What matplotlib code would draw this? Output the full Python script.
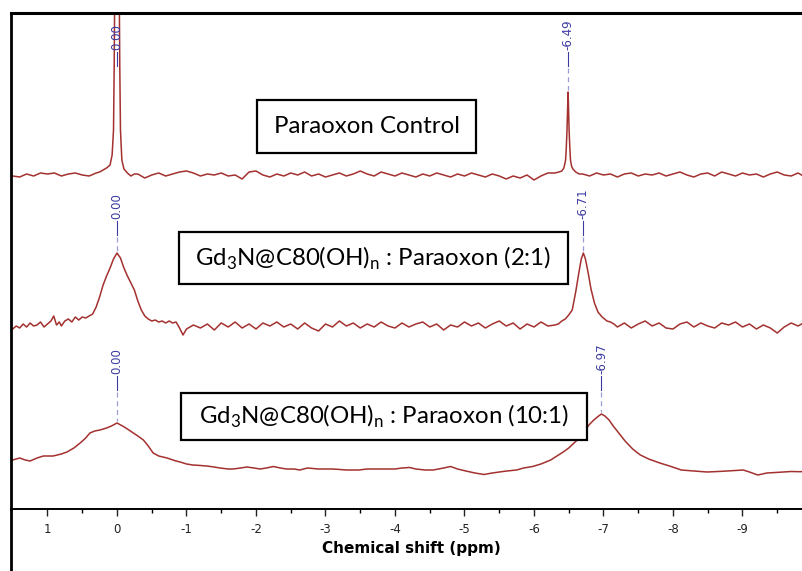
"""
31P NMR spectra of paraoxon with and without Gd3N@C80(OH)n.

Three stacked spectra on a shared chemical-shift axis, each with
boxed sample name and peak-position labels.
"""

import numpy as np
import matplotlib.pyplot as plt
from matplotlib.lines import Line2D
from matplotlib.patches import Rectangle

W, H = 802, 571

# Paraoxon control (height above baseline)
CONTROL_PPM = [1.5, 1.4, 1.3, 1.2, 1.1, 1.0, 0.9, 0.8, 0.7, 0.6, 0.5, 0.4, 0.3,
               0.25, 0.2, 0.15, 0.1, 0.07, 0.05, 0.04, 0.03, 0.015, 0.0, -0.015, -0.03, -0.04,
               -0.05, -0.07, -0.1, -0.15, -0.2, -0.25,
               -0.3, -0.4, -0.5, -0.6, -0.7, -0.8, -0.9, -1.0, -1.1, -1.2, -1.3, -1.4, -1.5,
               -1.6, -1.7, -1.8, -1.9, -2.0, -2.1, -2.2, -2.3, -2.4, -2.5, -2.6, -2.7, -2.8,
               -2.9, -3.0, -3.1, -3.2, -3.3, -3.4, -3.5, -3.6, -3.7, -3.8, -3.9, -4.0, -4.1,
               -4.2, -4.3, -4.4, -4.5, -4.6, -4.7, -4.8, -4.9, -5.0, -5.1, -5.2, -5.3, -5.4,
               -5.5, -5.6, -5.7, -5.8, -5.9, -6.0, -6.1, -6.2, -6.3,
               -6.36, -6.4, -6.43, -6.455, -6.465, -6.475, -6.485, -6.49, -6.495, -6.505,
               -6.515, -6.525, -6.54, -6.56, -6.6, -6.65,
               -6.7, -6.8, -6.9, -7.0, -7.1, -7.2, -7.3, -7.4, -7.5, -7.6, -7.7, -7.8, -7.9,
               -8.0, -8.1, -8.2, -8.3, -8.4, -8.5, -8.6, -8.7, -8.8, -8.9, -9.0, -9.1, -9.2,
               -9.3, -9.4, -9.5, -9.6, -9.7, -9.8, -9.9, -10.0]
CONTROL_INT = [-1, -2, 1, -1, 2, 1, 2, -1, 1, 2, 0, -1, 2,
               3, 5, 7, 10, 20, 45, 110, 210, 460, 700, 460, 210, 110,
               45, 15, 6, 2, -1, 1,
               1, -3, 0, 2, -1, 1, 3, 4, 2, -1, 1, 0, 2,
               -1, 0, -4, 3, 4, 0, -2, 1, -1, 2, 0, 3, -1,
               1, -2, 0, 2, -1, 1, 4, 1, -1, 3, 1, -1, 2,
               0, -2, 1, -1, 2, 0, -2, 1, -1, 2, 0, -2, 1,
               -1, -4, -1, -3, 0, -5, -1, 2, 2,
               3, 4, 7, 15, 28, 45, 72, 83, 72, 45,
               28, 15, 9, 6, 3, 1,
               1, -1, 2, 0, 1, -2, 1, 2, -1, 1, 0, 2, -1,
               1, 3, 0, -2, 1, 2, -1, 3, 1, -1, 2, 0, 1,
               -2, 1, 3, 0, -1, 2, -2, 1]
CONTROL_PEAKS = [0.00, -6.49]

# Gd3N@C80(OH)n : paraoxon 2:1
RATIO2_PPM = [1.5, 1.45, 1.4, 1.35, 1.3, 1.25, 1.2, 1.15, 1.1, 1.05, 1.0, 0.95, 0.91, 0.87,
              0.83, 0.8, 0.75, 0.7, 0.65, 0.6, 0.55, 0.5, 0.45, 0.4, 0.35, 0.3, 0.25, 0.2,
              0.15, 0.1, 0.05, 0.0, -0.05, -0.1, -0.15, -0.2, -0.25, -0.3, -0.35, -0.4,
              -0.45, -0.5, -0.55, -0.6, -0.65, -0.7, -0.75, -0.8, -0.85, -0.9, -0.95,
              -1.0, -1.1, -1.2, -1.3, -1.4, -1.5, -1.6, -1.7, -1.8, -1.9, -2.0, -2.1, -2.2,
              -2.3, -2.4, -2.5, -2.6, -2.7, -2.8, -2.9, -3.0, -3.1, -3.2, -3.3, -3.4, -3.5,
              -3.6, -3.7, -3.8, -3.9, -4.0, -4.1, -4.2, -4.3, -4.4, -4.5, -4.6, -4.7, -4.8,
              -4.9, -5.0, -5.1, -5.2, -5.3, -5.4, -5.5, -5.6, -5.7, -5.8, -5.9, -6.0, -6.1,
              -6.2, -6.3,
              -6.35, -6.4, -6.45, -6.5, -6.55, -6.6, -6.64, -6.68, -6.71, -6.74, -6.78,
              -6.82, -6.87, -6.92, -6.98, -7.05, -7.1, -7.15,
              -7.2, -7.3, -7.4, -7.5, -7.6, -7.7, -7.8, -7.9, -8.0, -8.1, -8.2, -8.3, -8.4,
              -8.5, -8.6, -8.7, -8.8, -8.9, -9.0, -9.1, -9.2, -9.3, -9.4, -9.5, -9.6, -9.7,
              -9.8, -9.9, -10.0]
RATIO2_INT = [-4, -1, -3, 1, -2, 2, -1, 0, 3, -2, 1, 4, 9, 0,
              3, -1, 4, 6, 3, 8, 5, 8, 7, 9, 11, 18, 28, 40,
              49, 57, 66, 72, 67, 57, 49, 42, 35, 24, 15, 9,
              6, 4, 5, 3, 4, 2, 4, 2, 3, -3, -10,
              -4, 0, -3, 1, -5, 2, -2, 3, -3, 1, -4, 2, -1,
              3, -2, 1, -4, 2, -3, -6, 1, -2, 4, -1, 2, -3,
              1, -2, 3, -1, -3, 2, -2, 1, 3, -2, 1, -5, 0,
              -2, 3, -1, 2, -3, 1, 4, -1, 2, -4, 1, -2, 3,
              -1, 0,
              1, 4, 6, 10, 15, 33, 50, 66, 72, 66, 52,
              36, 22, 13, 8, 4, 3, 1,
              -2, 2, -3, 1, 4, -1, 2, -3, -4, 1, 3, -2, 2,
              -1, -3, 2, 0, 3, -2, 1, -4, 0, -3, -8, -2, 2,
              -1, 3, 1]
RATIO2_PEAKS = [0.00, -6.71]

# Gd3N@C80(OH)n : paraoxon 10:1
RATIO10_PPM = [1.5, 1.45, 1.4, 1.32, 1.25, 1.15, 1.06, 0.92, 0.8, 0.72, 0.62, 0.53, 0.45,
               0.39, 0.32, 0.245, 0.15, 0.08, 0.0, -0.08, -0.15, -0.235, -0.3, -0.38, -0.45,
               -0.52, -0.6, -0.72, -0.85, -0.91, -1.0, -1.09, -1.2, -1.29, -1.4, -1.48, -1.6,
               -1.67, -1.78, -1.87, -1.97, -2.06, -2.15, -2.25, -2.35, -2.44, -2.55, -2.63,
               -2.74, -2.9, -3.11, -3.3, -3.48, -3.6, -3.85, -4.0, -4.1, -4.21, -4.3, -4.43,
               -4.55, -4.7, -4.8, -4.9, -5.02, -5.15, -5.28, -5.4, -5.5, -5.61, -5.75, -5.85,
               -5.98, -6.1, -6.24, -6.33, -6.42, -6.5, -6.56, -6.64, -6.72, -6.79, -6.86,
               -6.93, -6.97, -7.02, -7.08, -7.14, -7.22, -7.31, -7.42, -7.53, -7.65, -7.81,
               -7.95, -8.12, -8.3, -8.49, -8.65, -8.78, -9.01, -9.1, -9.22, -9.35, -9.52,
               -9.7, -9.82, -9.95]
RATIO10_INT = [10, 11, 12, 10, 9, 12, 14, 14, 16, 18, 22, 27, 32,
               37, 39, 40, 42, 44, 47, 44, 41, 37, 34, 30, 24,
               17, 14, 12, 9, 8, 6, 5, 4.5, 4, 3, 2, 1,
               1, 2, 3, 2, 1, 2, 3.5, 2, 1, 1, 0,
               2, 1, 1, 0, 0, 1, 1, 1, 2, 2.5, 1, 0,
               0, 2, 3.5, 1, -1, -3, -4.5, -3, -2, -1, 0, 2,
               3.5, 6, 10, 14, 18, 22, 26, 31, 38, 45, 50,
               54, 56, 54, 50, 44, 37, 29, 21, 15, 11, 7,
               4, 0, -1, -2, -1.5, -1, 0, -2, -5, -3, -2.3,
               -1.5, -1.7, -1.5]
RATIO10_PEAKS = [0.00, -6.97]

SAMPLE_NAMES = ["Paraoxon Control",
                r"Gd$_\mathregular{3}$N@C80(OH)$_\mathregular{n}$ : Paraoxon (2:1)",
                r"Gd$_\mathregular{3}$N@C80(OH)$_\mathregular{n}$ : Paraoxon (10:1)"]
X_TICKS = [1, 0, -1, -2, -3, -4, -5, -6, -7, -8, -9, -10]

# Layout, in image pixels (y measured from top)
OFFSETS = [334, 184, 39]          # baseline of each trace in data units
LABEL_LEVELS = [459, 290, 135]    # bottom of peak label text
BOXES = [(257, 100, 476, 153), (179, 232, 568, 284), (181, 393, 587, 440)]

LINE_COLOR = "#A3312F"
LABEL_COLOR = "#3B3BA3"
LEADER_COLOR = "#9C9CD8"


def fx(x):
    return x / W


def fy(y):
    return 1 - y / H


def main():
    fig = plt.figure(figsize=(W / 100, H / 100), dpi=100)
    ax = fig.add_axes([fx(11), fy(509), (812 - 11) / W, (509 - 13) / H])

    traces = [(CONTROL_PPM, CONTROL_INT, CONTROL_PEAKS),
              (RATIO2_PPM, RATIO2_INT, RATIO2_PEAKS),
              (RATIO10_PPM, RATIO10_INT, RATIO10_PEAKS)]

    for (ppm, inten, peaks), off, lvl in zip(traces, OFFSETS, LABEL_LEVELS):
        y = np.array(inten, dtype=float) + off
        ax.plot(ppm, y, color=LINE_COLOR, lw=1.1, zorder=2)

        # peak labels with leader lines
        for p in peaks:
            top = np.interp(-p, -np.array(ppm), y)
            ax.text(p, lvl, f"{p:.2f}", rotation=90, ha="center", va="bottom",
                    color=LABEL_COLOR, fontsize=8.5, zorder=4)
            ax.plot([p, p], [lvl - 2, lvl - 16], color=LABEL_COLOR, lw=0.8, zorder=3)
            if top < lvl - 18:
                ax.plot([p, p], [lvl - 18, top + 2], color=LEADER_COLOR, lw=0.9,
                        ls=(0, (4, 3)), zorder=3)

    ax.set_xlim(1.525, -10.0)
    ax.set_ylim(0, 496)
    ax.set_yticks([])
    ax.set_xticks(X_TICKS)
    # the -10 label sits past the right edge of the picture
    ax.set_xticklabels([str(t) if t > -10 else "" for t in X_TICKS])
    ax.set_xticks(np.array(X_TICKS[:-1]) - 0.5, minor=True)
    ax.tick_params(axis="x", which="major", length=5, width=1, direction="out",
                   labelsize=8.5, pad=5, colors="#222222")
    ax.tick_params(axis="x", which="minor", length=3, width=1, direction="out")
    ax.spines["right"].set_visible(False)
    ax.spines["top"].set_linewidth(2.2)
    ax.spines["left"].set_linewidth(2)
    ax.spines["bottom"].set_linewidth(1.4)
    ax.set_xlabel("Chemical shift (ppm)", fontsize=11, fontweight="bold", labelpad=4)

    # left frame line continues below the axis
    fig.add_artist(Line2D([fx(11), fx(11)], [0, fy(509)], color="black", lw=2))

    # sample boxes
    for name, (x0, y0, x1, y1) in zip(SAMPLE_NAMES, BOXES):
        fig.add_artist(Rectangle((fx(x0), fy(y1)), fx(x1 - x0), (y1 - y0) / H,
                                 facecolor="white", edgecolor="black", lw=1.6,
                                 transform=fig.transFigure, zorder=5))
        fig.text(fx((x0 + x1) / 2), fy((y0 + y1) / 2), name, ha="center", va="center",
                 fontsize=17.3, family="Lato", zorder=6)

    fig.savefig("out.png", dpi=100)
    plt.close(fig)


if __name__ == "__main__":
    main()
